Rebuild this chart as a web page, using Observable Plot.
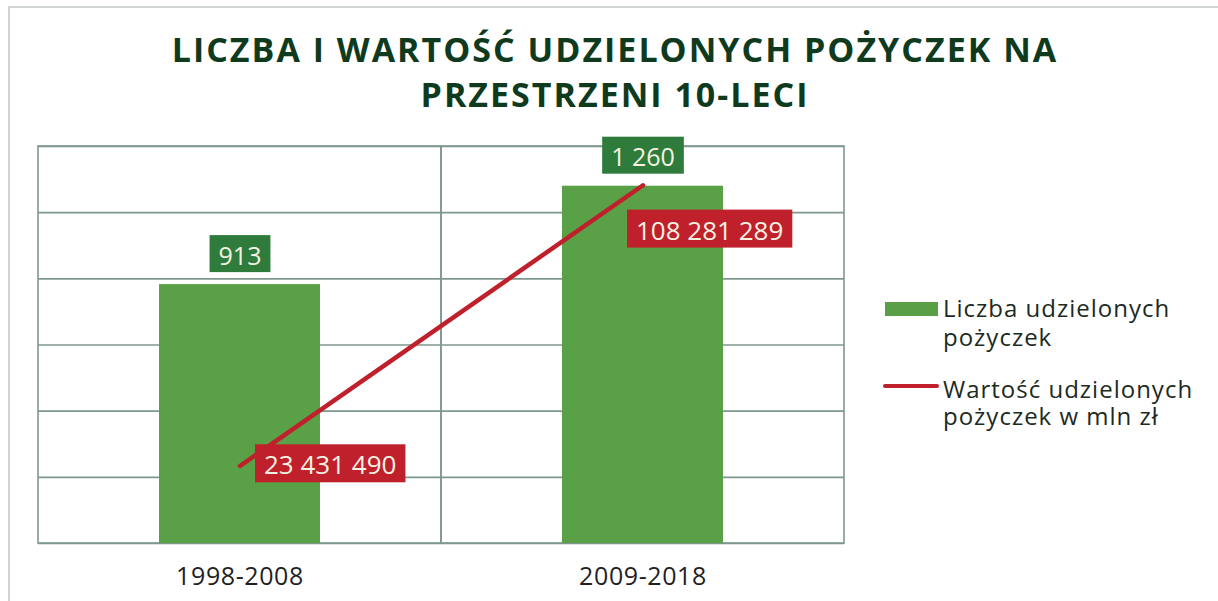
<!DOCTYPE html>
<html>
<head>
<meta charset="utf-8">
<script src="https://cdn.jsdelivr.net/npm/d3@7"></script>
<script src="https://cdn.jsdelivr.net/npm/@observablehq/plot@0.6"></script>
<style>
  html, body { margin: 0; padding: 0; background: #ffffff; }
  body { width: 1218px; height: 601px; position: relative; overflow: hidden; font-family: "Open Sans", sans-serif; }
  #border { position: absolute; left: 8px; top: 6px; width: 1300px; height: 700px; border-top: 2px solid #d0d4d2; border-left: 2px solid #d0d4d2; }
  #title { position: absolute; left: 6px; top: 27px; width: 1218px; text-align: center; font-weight: 700; color: #0f3a1e; font-size: 34px; line-height: 45px; letter-spacing: 2px; }
  #chart { position: absolute; left: 0; top: 130px; }
  .leg { position: absolute; color: #1d2a22; font-size: 24px; letter-spacing: 1px; }
  .sw-bar { position: absolute; left: 885px; top: 302px; width: 53px; height: 14px; background: #5a9f46; }
  .sw-line { position: absolute; left: 883px; top: 384px; width: 56px; height: 4px; border-radius: 2px; background: #c01f2c; }
</style>
</head>
<body>
<div id="border"></div>
<div id="title"><div>LICZBA I WARTOŚĆ UDZIELONYCH POŻYCZEK NA</div><div>PRZESTRZENI 10-LECI</div></div>
<div id="chart"></div>
<div class="sw-bar"></div>
<div class="leg" style="left:943px;top:293px;line-height:29px;">Liczba udzielonych<br>pożyczek</div>
<div class="sw-line"></div>
<div class="leg" style="left:943px;top:375px;line-height:27px;">Wartość udzielonych<br>pożyczek w mln zł</div>
<script>
// ---- data ----
const periods = ["1998-2008", "2009-2018"];
const loanCounts = [913, 1260];
const loanValues = [23431490, 108281289];
// axis domains (primary: count, secondary: value in zł)
const countMax = 1400;
const valueMax = 120000000;
const gridTicks = [0, 233.33, 466.67, 700, 933.33, 1166.67, 1400];

const barData = periods.map((p, i) => ({period: p, count: loanCounts[i]}));
const lineData = periods.map((p, i) => ({period: p, value: loanValues[i]}));

const fmt = d3.formatLocale({thousands: " ", grouping: [3], decimal: ",", currency: ["", ""]}).format(",d");
const toPrimary = v => v * countMax / valueMax;

const GREEN = "#5aa046", DARKGREEN = "#2e7b3b", RED = "#c01f2c", GRID = "#7f988c", LABEL = "#f4f2e0";

const plot = Plot.plot({
  width: 860,
  height: 471,
  marginLeft: 38,
  marginRight: 16,
  marginTop: 16,
  marginBottom: 58,
  style: {fontFamily: "Open Sans", fontSize: "24px", background: "transparent", overflow: "visible"},
  x: {type: "band", domain: periods, padding: 0, label: null},
  y: {domain: [0, countMax], axis: null},
  marks: [
    Plot.ruleY(gridTicks, {stroke: GRID, strokeWidth: 1.6}),
    Plot.barY(periods, {x: d => d, y1: () => 0, y2: () => countMax, fill: "none", stroke: GRID, strokeWidth: 1.6}),
    Plot.barY(barData, {x: "period", y: "count", fill: GREEN, insetLeft: 121, insetRight: 121}),
    Plot.line(lineData, {x: "period", y: d => toPrimary(d.value), stroke: RED, strokeWidth: 4.5, strokeLinecap: "round"}),
    Plot.text(barData, {x: "period", y: "count", text: d => fmt(d.count), dy: -28, fill: LABEL, fontSize: 25}),
    Plot.text(lineData, {filter: d => d.period === periods[0], x: "period", y: d => toPrimary(d.value), text: d => fmt(d.value), textAnchor: "start", dx: 24, fill: LABEL, fontSize: 26}),
    Plot.text(lineData, {filter: d => d.period === periods[1], x: "period", y: d => toPrimary(d.value), text: d => fmt(d.value), textAnchor: "start", dx: -7, dy: 46, fill: LABEL, fontSize: 26}),
    Plot.axisX({tickSize: 0, tickPadding: 24, fontSize: 25, fill: "#1f1f1f", label: null})
  ]
});
plot.querySelectorAll('g[aria-label="x-axis tick label"] text').forEach(t => t.setAttribute("letter-spacing", "0.6px"));
document.getElementById("chart").appendChild(plot);

// label boxes behind the value texts (text marks in order: counts, value 1, value 2)
const textGroups = plot.querySelectorAll('g[aria-label="text"]');
function boxes(group, color, padX, h) {
  group.querySelectorAll("text").forEach(t => {
    const bb = t.getBBox();
    const r = document.createElementNS("http://www.w3.org/2000/svg", "rect");
    const cy = bb.y + bb.height / 2 - 1;
    r.setAttribute("x", bb.x - padX);
    r.setAttribute("y", cy - h / 2);
    r.setAttribute("width", bb.width + 2 * padX);
    r.setAttribute("height", h);
    r.setAttribute("fill", color);
    if (t.getAttribute("transform")) r.setAttribute("transform", t.getAttribute("transform"));
    t.parentNode.insertBefore(r, t);
  });
}
if (textGroups[0]) boxes(textGroups[0], DARKGREEN, 9, 37);
if (textGroups[1]) boxes(textGroups[1], RED, 9, 38);
if (textGroups[2]) boxes(textGroups[2], RED, 9, 38);
</script>
</body>
</html>
